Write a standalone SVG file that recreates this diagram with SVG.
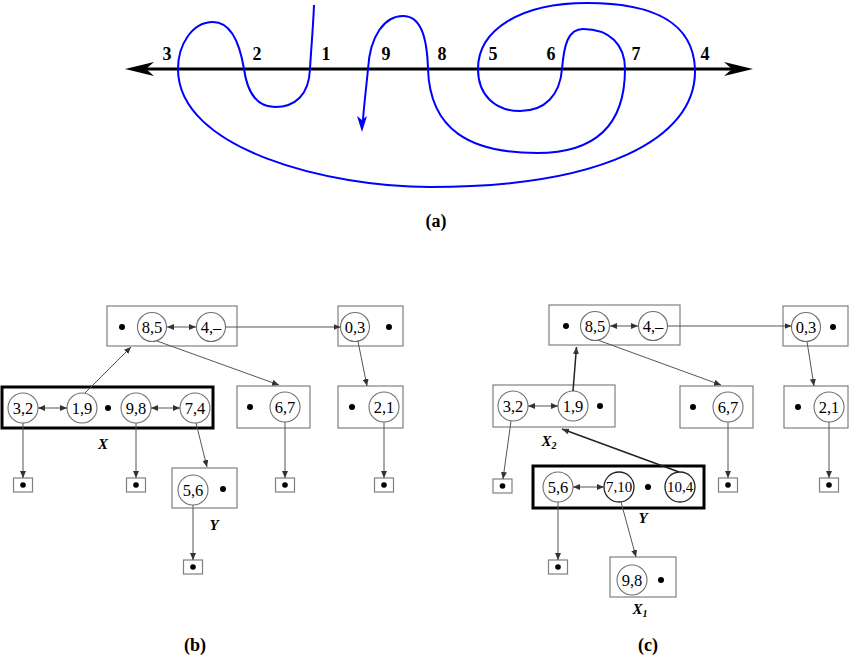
<svg xmlns="http://www.w3.org/2000/svg" width="850" height="657" viewBox="0 0 850 657">
<style>
.box{fill:none;stroke:#808080;stroke-width:1.2}
.thick{fill:none;stroke:#000;stroke-width:3}
.cir{fill:#fff;stroke:#707070;stroke-width:1.1}
.cird{fill:#fff;stroke:#222;stroke-width:1.3}
.t{font-family:"Liberation Serif","Times New Roman",serif;font-size:16.5px;text-anchor:middle;fill:#000}
.t15{font-family:"Liberation Serif","Times New Roman",serif;font-size:15px;text-anchor:middle;fill:#000}
.num{font-family:"Liberation Serif","Times New Roman",serif;font-size:18px;font-weight:bold;text-anchor:middle;fill:#000}
.cap{font-family:"Liberation Serif","Times New Roman",serif;font-size:18px;font-weight:bold;text-anchor:middle;fill:#000}
.lab{font-family:"Liberation Serif","Times New Roman",serif;font-size:15px;font-weight:bold;font-style:italic;text-anchor:middle;fill:#000}
.sub{font-size:10px}
.c{stroke:#555;stroke-width:1;fill:none}
.cd{stroke:#222;stroke-width:1.5;fill:none}
.dot{fill:#000}
</style>
<defs>
<marker id="ah" markerWidth="8" markerHeight="6" refX="7" refY="3" orient="auto-start-reverse" markerUnits="userSpaceOnUse">
<path d="M0,0 L7,3 L0,6 z" fill="#333"/>
</marker>
</defs>

<g id="part-a">
<line x1="140" y1="69" x2="738" y2="69" stroke="#000" stroke-width="3"/>
<path d="M125,69 L154,62 L146,69 L154,76 z" fill="#000"/>
<path d="M753,69 L724,62 L732,69 L724,76 z" fill="#000"/>
<path d="M314,5 C313,30 311,50 310,69 C309,95 295,107 275,107 C255,107 247,90 244,69 C240,45 232,22 213,22 C192,22 178,45 178,69 C178,150 330,187 430,187 C600,187 697,140 695,69 C693,20 650,3 587,3 C520,3 478,30 478,69 C478,95 495,111 520,111 C545,111 560,95 562,69 C564,45 568,29 583,29 C610,29 625,45 625,69 C625,130 590,153 537,153 C470,153 430,130 428,69 C427,35 420,16 403,16 C385,16 370,35 368,69 C366,90 364,105 363,120" fill="none" stroke="#0000ff" stroke-width="2"/>
<path d="M362,132 L357,116 L362,120 L367,116 z" fill="#0000ff"/>
<text class="num" x="167" y="60">3</text>
<text class="num" x="257" y="60">2</text>
<text class="num" x="326" y="60">1</text>
<text class="num" x="386" y="60">9</text>
<text class="num" x="442" y="60">8</text>
<text class="num" x="493" y="60">5</text>
<text class="num" x="551" y="60">6</text>
<text class="num" x="636" y="60">7</text>
<text class="num" x="705" y="60">4</text>
<text class="cap" x="436" y="227">(a)</text>
</g>

<!-- part (b) nodes -->
<g id="b-root">
<rect class="box" x="107" y="306" width="130" height="40"/>
<circle class="dot" cx="122" cy="327" r="3"/>
<circle class="cir" cx="152" cy="327" r="14.5"/><text class="t" x="152" y="332.5">8,5</text>
<circle class="cir" cx="211" cy="327" r="14.5"/><text class="t" x="211" y="332.5">4,–</text>
</g>
<g id="b-03">
<rect class="box" x="338" y="306" width="65" height="40"/>
<circle class="cir" cx="355" cy="327" r="14.5"/><text class="t" x="355" y="332.5">0,3</text>
<circle class="dot" cx="389" cy="327" r="3"/>
</g>
<g id="b-X">
<rect class="thick" x="2" y="387" width="211" height="41"/>
<circle class="cir" cx="23" cy="408" r="15"/><text class="t" x="23" y="413.5">3,2</text>
<circle class="cir" cx="82" cy="408" r="15"/><text class="t" x="82" y="413.5">1,9</text>
<circle class="dot" cx="108" cy="408" r="3"/>
<circle class="cir" cx="136" cy="408" r="15"/><text class="t" x="136" y="413.5">9,8</text>
<circle class="cir" cx="195" cy="408" r="15"/><text class="t" x="195" y="413.5">7,4</text>
<text class="lab" x="103" y="449">X</text>
</g>
<g id="b-67">
<rect class="box" x="237" y="386" width="73" height="42"/>
<circle class="dot" cx="250" cy="407" r="3"/>
<circle class="cir" cx="285" cy="407" r="15"/><text class="t" x="285" y="412.5">6,7</text>
</g>
<g id="b-21">
<rect class="box" x="338" y="386" width="65" height="42"/>
<circle class="dot" cx="352" cy="407" r="3"/>
<circle class="cir" cx="384" cy="407" r="15"/><text class="t" x="384" y="412.5">2,1</text>
</g>
<g id="b-Y">
<rect class="box" x="172" y="468" width="65" height="40"/>
<circle class="cir" cx="193" cy="490" r="15"/><text class="t" x="193" y="495.5">5,6</text>
<circle class="dot" cx="223" cy="489" r="3"/>
<text class="lab" x="214" y="530">Y</text>
</g>
<g id="b-leaf1"><rect class="box" x="13.5" y="478" width="19" height="14"/><circle class="dot" cx="23" cy="485" r="2.8"/></g>
<g id="b-leaf2"><rect class="box" x="126.5" y="478" width="19" height="14"/><circle class="dot" cx="136" cy="485" r="2.8"/></g>
<g id="b-leaf3"><rect class="box" x="275.5" y="478" width="19" height="14"/><circle class="dot" cx="285" cy="485" r="2.8"/></g>
<g id="b-leaf4"><rect class="box" x="374.5" y="478" width="19" height="14"/><circle class="dot" cx="384" cy="485" r="2.8"/></g>
<g id="b-leaf5"><rect class="box" x="183.5" y="560" width="19" height="14"/><circle class="dot" cx="193" cy="567" r="2.8"/></g>
<text class="cap" x="195" y="651">(b)</text>

<!-- part (c) nodes -->
<g id="c-root">
<rect class="box" x="549" y="305" width="131" height="40"/>
<circle class="dot" cx="566" cy="326" r="3"/>
<circle class="cir" cx="595" cy="326" r="14.5"/><text class="t" x="595" y="331.5">8,5</text>
<circle class="cir" cx="653" cy="326" r="14.5"/><text class="t" x="653" y="331.5">4,–</text>
</g>
<g id="c-03">
<rect class="box" x="783" y="306" width="65" height="40"/>
<circle class="cir" cx="806" cy="327" r="14.5"/><text class="t" x="806" y="332.5">0,3</text>
<circle class="dot" cx="833" cy="327" r="3"/>
</g>
<g id="c-X2">
<rect class="box" x="493" y="385" width="122" height="42"/>
<circle class="cir" cx="513" cy="406" r="15"/><text class="t" x="513" y="411.5">3,2</text>
<circle class="cir" cx="573" cy="406" r="15"/><text class="t" x="573" y="411.5">1,9</text>
<circle class="dot" cx="600" cy="406" r="3"/>
<text class="lab" x="549" y="446">X<tspan class="sub" dy="3">2</tspan></text>
</g>
<g id="c-67">
<rect class="box" x="680" y="386" width="73" height="42"/>
<circle class="dot" cx="693" cy="407" r="3"/>
<circle class="cir" cx="728" cy="407" r="15"/><text class="t" x="728" y="412.5">6,7</text>
</g>
<g id="c-21">
<rect class="box" x="784" y="386" width="64" height="42"/>
<circle class="dot" cx="798" cy="407" r="3"/>
<circle class="cir" cx="829" cy="407" r="15"/><text class="t" x="829" y="412.5">2,1</text>
</g>
<g id="c-Y">
<rect class="thick" x="533" y="466" width="171" height="42"/>
<circle class="cir" cx="558" cy="487" r="15"/><text class="t" x="558" y="492.5">5,6</text>
<circle class="cird" cx="619" cy="487" r="15"/><text class="t15" x="619" y="492">7,10</text>
<circle class="dot" cx="648" cy="487" r="3"/>
<circle class="cird" cx="680" cy="487" r="15"/><text class="t15" x="680" y="492">10,4</text>
<text class="lab" x="643" y="523">Y</text>
</g>
<g id="c-X1">
<rect class="box" x="610" y="557" width="66" height="40"/>
<circle class="cir" cx="632" cy="580" r="15"/><text class="t" x="632" y="585.5">9,8</text>
<circle class="dot" cx="661" cy="580" r="3"/>
<text class="lab" x="640" y="614">X<tspan class="sub" dy="3">1</tspan></text>
</g>
<g id="c-leaf1"><rect class="box" x="493" y="479" width="19" height="14"/><circle class="dot" cx="502.5" cy="486" r="2.8"/></g>
<g id="c-leaf2"><rect class="box" x="548.5" y="560" width="19" height="14"/><circle class="dot" cx="558" cy="567" r="2.8"/></g>
<g id="c-leaf3"><rect class="box" x="718.5" y="478" width="19" height="14"/><circle class="dot" cx="728" cy="485" r="2.8"/></g>
<g id="c-leaf4"><rect class="box" x="819.5" y="478" width="19" height="14"/><circle class="dot" cx="829" cy="485" r="2.8"/></g>
<text class="cap" x="648" y="651">(c)</text>

<g id="connectors">
<!-- (b) -->
<line class="c" x1="167" y1="327" x2="196" y2="327" marker-start="url(#ah)" marker-end="url(#ah)"/>
<line class="c" x1="225.5" y1="327" x2="340.5" y2="327" marker-end="url(#ah)"/>
<line class="c" x1="157" y1="341" x2="279" y2="385" marker-end="url(#ah)"/>
<line class="c" x1="85" y1="393" x2="131" y2="347" marker-end="url(#ah)"/>
<line class="c" x1="358" y1="341.5" x2="367" y2="386" marker-end="url(#ah)"/>
<line class="c" x1="38" y1="408" x2="67" y2="408" marker-start="url(#ah)" marker-end="url(#ah)"/>
<line class="c" x1="151" y1="408" x2="180" y2="408" marker-start="url(#ah)" marker-end="url(#ah)"/>
<line class="c" x1="23" y1="423" x2="23" y2="478" marker-end="url(#ah)"/>
<line class="c" x1="136" y1="423" x2="136" y2="478" marker-end="url(#ah)"/>
<line class="c" x1="196" y1="423" x2="207" y2="467" marker-end="url(#ah)"/>
<line class="c" x1="285" y1="422" x2="285" y2="478" marker-end="url(#ah)"/>
<line class="c" x1="384" y1="422" x2="384" y2="478" marker-end="url(#ah)"/>
<line class="c" x1="193" y1="505" x2="193" y2="560" marker-end="url(#ah)"/>
<!-- (c) -->
<line class="c" x1="610" y1="326" x2="638" y2="326" marker-start="url(#ah)" marker-end="url(#ah)"/>
<line class="c" x1="667.5" y1="326" x2="791.5" y2="326" marker-end="url(#ah)"/>
<line class="c" x1="599" y1="340.5" x2="721" y2="385" marker-end="url(#ah)"/>
<line class="c" x1="807" y1="341.5" x2="814" y2="386" marker-end="url(#ah)"/>
<line class="c" x1="528" y1="406" x2="558" y2="406" marker-start="url(#ah)" marker-end="url(#ah)"/>
<line class="cd" x1="573" y1="391" x2="576.5" y2="347" marker-end="url(#ah)"/>
<line class="cd" x1="679" y1="472" x2="562" y2="429" marker-end="url(#ah)"/>
<line class="c" x1="511" y1="421" x2="503" y2="479" marker-end="url(#ah)"/>
<line class="c" x1="573" y1="487" x2="604" y2="487" marker-start="url(#ah)" marker-end="url(#ah)"/>
<line class="c" x1="558" y1="502" x2="558" y2="560" marker-end="url(#ah)"/>
<line class="c" x1="621" y1="502" x2="636" y2="557" marker-end="url(#ah)"/>
<line class="c" x1="728" y1="422" x2="728" y2="478" marker-end="url(#ah)"/>
<line class="c" x1="829" y1="422" x2="829" y2="478" marker-end="url(#ah)"/>
</g>
</svg>
